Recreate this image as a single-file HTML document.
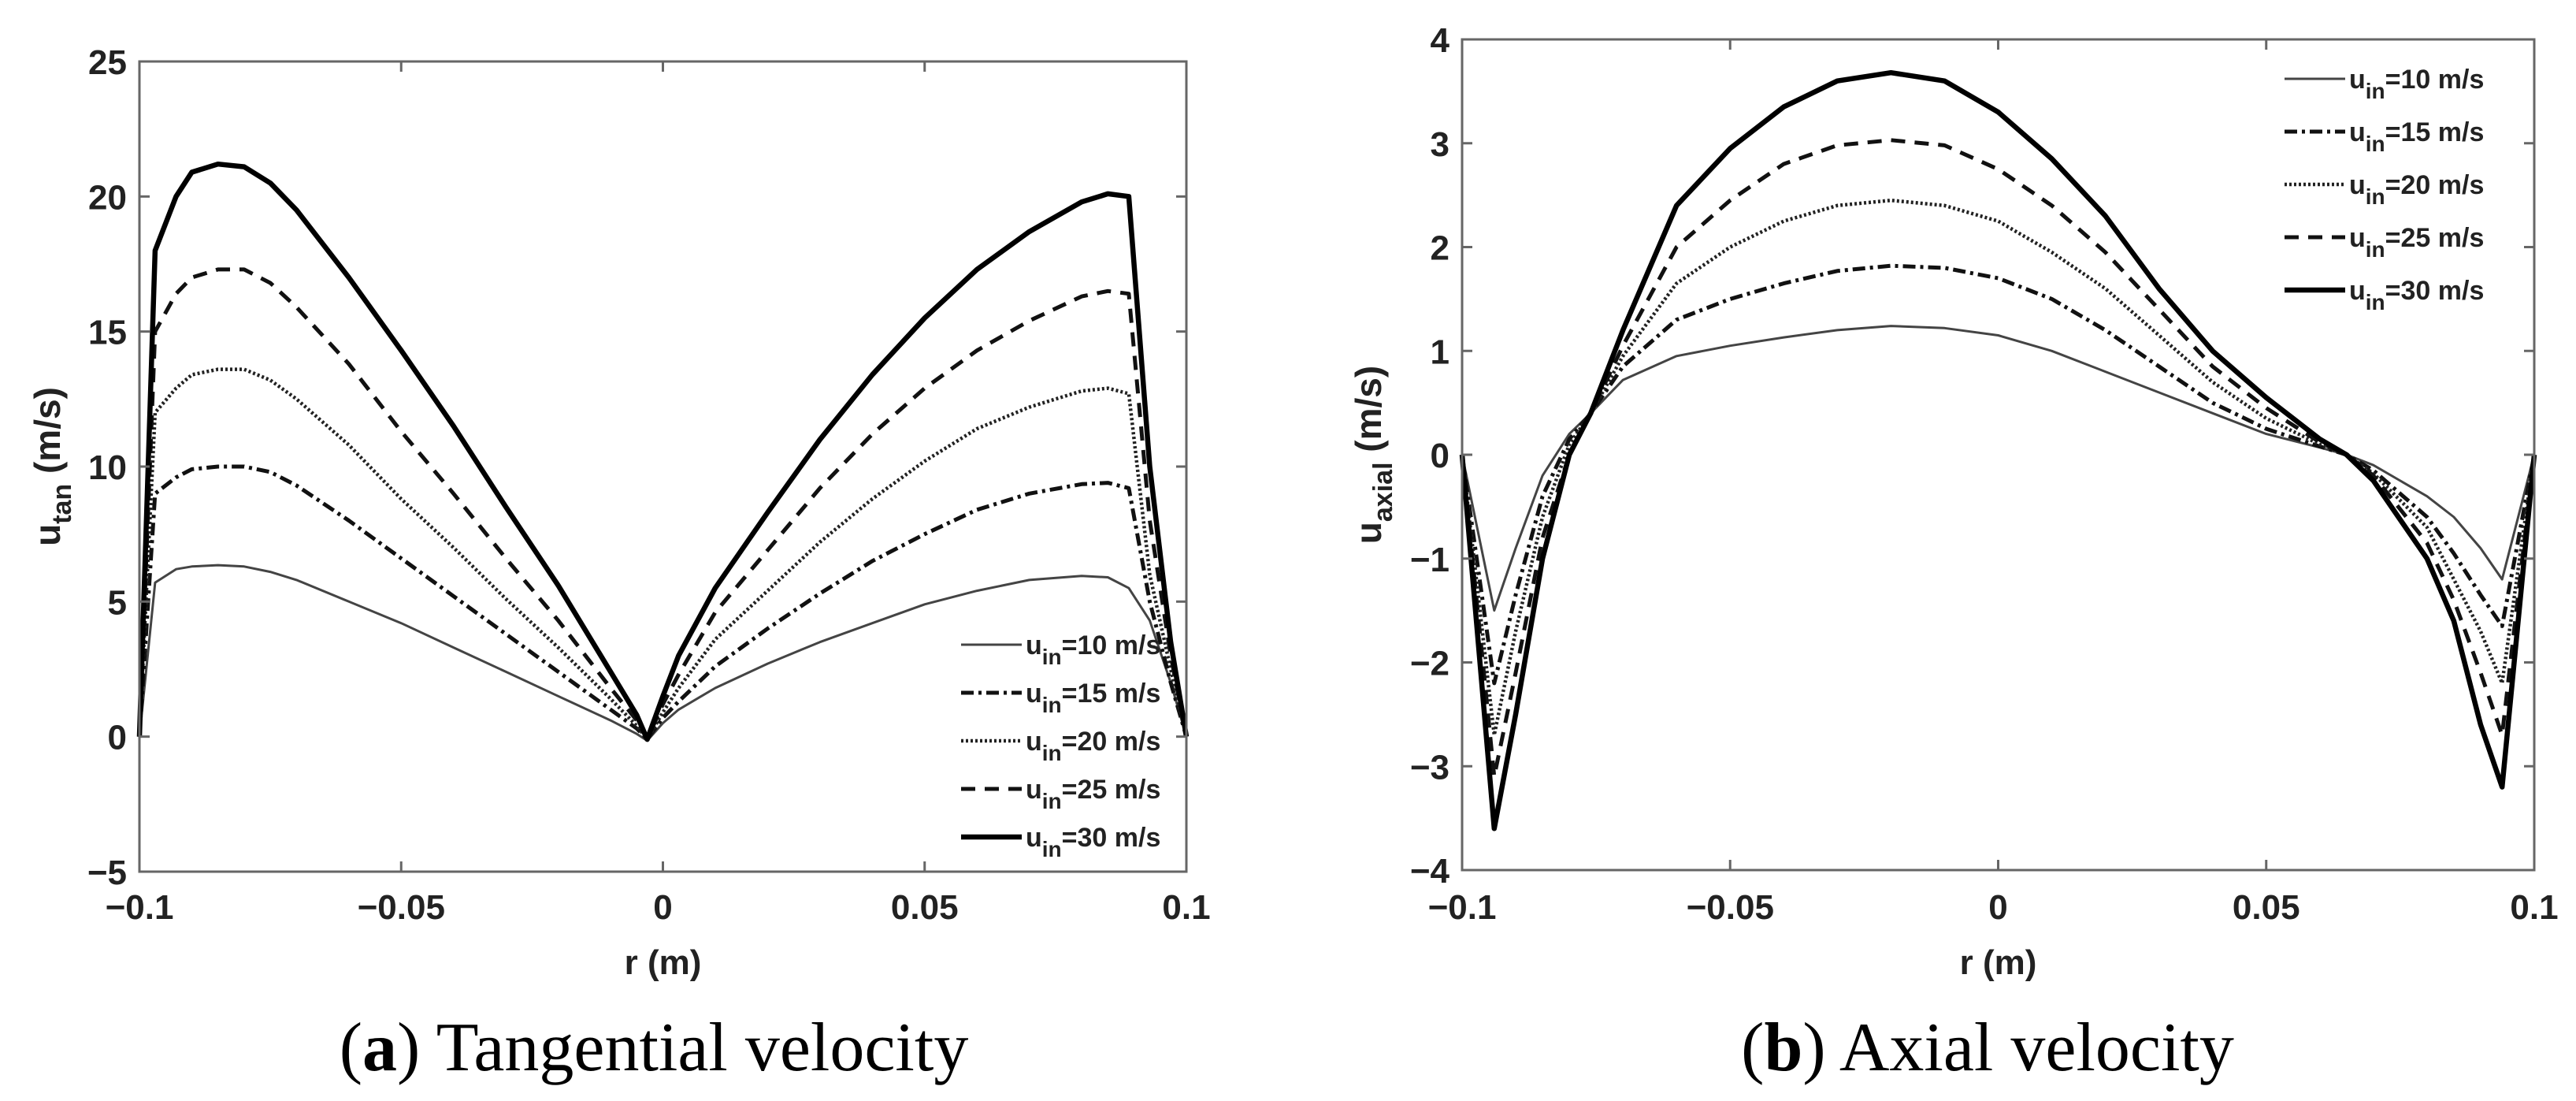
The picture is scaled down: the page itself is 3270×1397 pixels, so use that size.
<!DOCTYPE html>
<html><head><meta charset="utf-8"><style>
html,body{margin:0;padding:0;background:#fff;}
svg{display:block;}
text{font-family:"Liberation Sans",Arial,sans-serif;fill:#222;}
.cap{font-family:"Liberation Serif",serif;fill:#000;}
</style></head><body>
<svg id="fig" width="3270" height="1397" viewBox="0 0 3270 1397" xmlns="http://www.w3.org/2000/svg">
<text class="cap" x="830" y="1358" font-size="88" text-anchor="middle">(<tspan font-weight="bold">a</tspan>) Tangential velocity</text>
<text class="cap" x="2523" y="1358" font-size="88" text-anchor="middle">(<tspan font-weight="bold">b</tspan>) Axial velocity</text>
</svg>
<script>
// ---- Chart A data (tangential) ----
const rA = [-0.1,-0.097,-0.093,-0.09,-0.085,-0.08,-0.075,-0.07,-0.06,-0.05,-0.04,-0.03,-0.02,-0.01,-0.005,-0.003,0,0.003,0.01,0.02,0.03,0.04,0.05,0.06,0.07,0.08,0.085,0.089,0.093,0.097,0.1];
const tan10 = [0,5.7,6.2,6.3,6.35,6.3,6.1,5.8,5.0,4.2,3.3,2.4,1.5,0.6,0.1,-0.15,0.5,1.0,1.8,2.7,3.5,4.2,4.9,5.4,5.8,5.95,5.9,5.5,4.3,2,0];
const tan15 = [0,9,9.6,9.9,10,10,9.8,9.3,8.0,6.6,5.2,3.8,2.4,1.0,0.3,-0.1,0.7,1.3,2.6,4.0,5.3,6.5,7.5,8.4,9.0,9.35,9.4,9.2,5,2,0];
const tan20 = [0,12,12.9,13.4,13.6,13.6,13.2,12.5,10.8,8.8,7.0,5.1,3.3,1.4,0.4,-0.1,0.9,1.8,3.6,5.4,7.2,8.8,10.2,11.4,12.2,12.8,12.9,12.7,6,2.5,0];
const tan25 = [0,15,16.4,17,17.3,17.3,16.8,15.9,13.8,11.3,9.0,6.6,4.3,1.8,0.6,-0.1,1.2,2.3,4.6,6.9,9.2,11.2,12.9,14.3,15.4,16.3,16.5,16.4,8,3,0];
const tan30 = [0,18,20,20.9,21.2,21.1,20.5,19.5,17,14.3,11.5,8.5,5.6,2.4,0.8,-0.1,1.5,3.0,5.5,8.3,11,13.4,15.5,17.3,18.7,19.8,20.1,20,10,3.5,0];
const yTicksA = [-5,0,5,10,15,20,25];
// ---- Chart B data (axial) ----
const rB = [-0.1,-0.094,-0.09,-0.085,-0.08,-0.076,-0.07,-0.06,-0.05,-0.04,-0.03,-0.02,-0.01,0,0.01,0.02,0.03,0.04,0.05,0.06,0.065,0.07,0.08,0.085,0.09,0.094,0.1];
const ax10 = [0,-1.5,-0.9,-0.2,0.2,0.4,0.72,0.95,1.05,1.13,1.2,1.24,1.22,1.15,1.0,0.8,0.6,0.4,0.2,0.07,0,-0.1,-0.4,-0.6,-0.9,-1.2,0];
const ax15 = [0,-2.2,-1.35,-0.4,0.15,0.4,0.85,1.3,1.5,1.65,1.77,1.82,1.8,1.7,1.5,1.2,0.85,0.5,0.25,0.08,0,-0.15,-0.6,-0.95,-1.35,-1.65,0];
const ax20 = [0,-2.7,-1.7,-0.6,0.1,0.4,0.95,1.65,2.0,2.25,2.4,2.45,2.4,2.25,1.95,1.6,1.15,0.7,0.35,0.1,0,-0.18,-0.7,-1.2,-1.7,-2.2,0];
const ax25 = [0,-3.1,-2.1,-0.8,0,0.4,1.05,2.0,2.45,2.8,2.98,3.03,2.98,2.75,2.4,1.95,1.4,0.85,0.45,0.12,0,-0.2,-0.85,-1.4,-2.1,-2.7,0];
const ax30 = [0,-3.6,-2.5,-1.0,0,0.4,1.2,2.4,2.95,3.35,3.6,3.68,3.6,3.3,2.85,2.3,1.6,1.0,0.55,0.15,0,-0.25,-1.0,-1.6,-2.6,-3.2,0];
const yTicksB = [-4,-3,-2,-1,0,1,2,3,4];
const xTicks = [-0.1,-0.05,0,0.05,0.1];
const xTickLabels = ["\u22120.1","\u22120.05","0","0.05","0.1"];
const legendLabels = ["=10 m/s","=15 m/s","=20 m/s","=25 m/s","=30 m/s"];

const NS="http://www.w3.org/2000/svg";
const svg=document.getElementById('fig');
const styles=[
 {w:3,d:"",c:"#444"},
 {w:5,d:"16,6,4,6",c:"#111"},
 {w:4.5,d:"3,3",c:"#222"},
 {w:5,d:"18,12",c:"#111"},
 {w:6.5,d:"",c:"#000"}
];
function mk(tag,attrs,parent){const e=document.createElementNS(NS,tag);for(const k in attrs)e.setAttribute(k,attrs[k]);(parent||svg).appendChild(e);return e;}
function fmt(v){return v<0?"\u2212"+Math.abs(v):String(v);}

function chart(cfg){
 const g=mk('g',{});
 
 
 const sx=v=>cfg.x0+(v-(-0.1))/0.2*(cfg.x1-cfg.x0);
 const sy=v=>cfg.y1-(v-cfg.ymin)/(cfg.ymax-cfg.ymin)*(cfg.y1-cfg.y0);
 cfg.series.forEach((s,i)=>{
  const st=styles[i];
  const p=mk('polyline',{points:cfg.r.map((r,j)=>sx(r).toFixed(1)+","+sy(s[j]).toFixed(1)).join(" "),fill:"none",stroke:st.c,"stroke-width":st.w,"stroke-dasharray":st.d,"stroke-linejoin":"round"},g);
  
  
 });
 const box=mk('rect',{x:cfg.x0,y:cfg.y0,width:cfg.x1-cfg.x0,height:cfg.y1-cfg.y0,fill:"none",stroke:"#666","stroke-width":3},g);
 
 
 cfg.yt.forEach(v=>{
  const y=sy(v);
  mk('line',{x1:cfg.x0,x2:cfg.x0+13,y1:y,y2:y,stroke:"#666","stroke-width":3},g);
  mk('line',{x1:cfg.x1,x2:cfg.x1-13,y1:y,y2:y,stroke:"#666","stroke-width":3},g);
  const t=mk('text',{x:cfg.x0-16,y:y+16,"font-size":44,"font-weight":"bold","text-anchor":"end"},g);
  t.textContent=fmt(v);
  
  
 });
 xTicks.forEach((v,i)=>{
  const x=sx(v);
  mk('line',{x1:x,x2:x,y1:cfg.y1,y2:cfg.y1-13,stroke:"#666","stroke-width":3},g);
  mk('line',{x1:x,x2:x,y1:cfg.y0,y2:cfg.y0+13,stroke:"#666","stroke-width":3},g);
  const t=mk('text',{x:x,y:1166,"font-size":44,"font-weight":"bold","text-anchor":"middle"},g);
  t.textContent=xTickLabels[i];
  
  
 });
 const xt=mk('text',{x:(cfg.x0+cfg.x1)/2,y:1236,"font-size":44,"font-weight":"bold","text-anchor":"middle"},g);
 xt.textContent="r (m)";
 
 
 const cy=cfg.ycy;
 const yt=mk('text',{x:cfg.ytx,y:cy,"font-size":46,"font-weight":"bold","text-anchor":"middle",transform:`rotate(-90 ${cfg.ytx} ${cy})`},g);
 yt.innerHTML='u<tspan font-size="34" dy="14">'+cfg.sub+'</tspan><tspan dy="-14"> (m/s)</tspan>';
 
 
 legendLabels.forEach((lab,i)=>{
  const y=cfg.ly+i*cfg.ldy;
  const st=styles[i];
  const le=mk('g',{},g);
  
  
  mk('line',{x1:cfg.lx,x2:cfg.lx+77,y1:y,y2:y,stroke:st.c,"stroke-width":st.w,"stroke-dasharray":st.d},le);
  const t=mk('text',{x:cfg.lx+82,y:y+12,"font-size":34,"font-weight":"bold"},le);
  t.innerHTML='u<tspan font-size="28" dy="13">in</tspan><tspan dy="-13">'+lab+'</tspan>';
 });
}
chart({name:'tangential-chart',x0:177,x1:1506,y0:78,y1:1106,ymin:-5,ymax:25,yt:yTicksA,r:rA,series:[tan10,tan15,tan20,tan25,tan30],sub:'tan',ytx:76,ycy:592,lx:1220,ly:818,ldy:61});
chart({name:'axial-chart',x0:1856,x1:3217,y0:50,y1:1104,ymin:-4,ymax:4,yt:yTicksB,r:rB,series:[ax10,ax15,ax20,ax25,ax30],sub:'axial',ytx:1753,ycy:577,lx:2900,ly:100,ldy:67});
</script>
</body></html>
